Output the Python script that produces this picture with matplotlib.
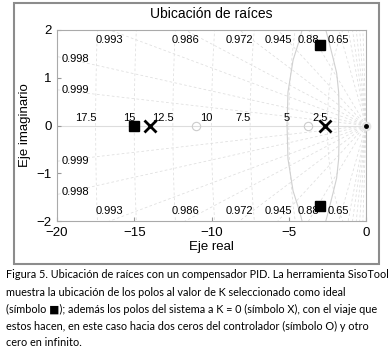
import numpy as np
import matplotlib
matplotlib.use("Agg")
import matplotlib.pyplot as plt
from matplotlib.patches import Rectangle

# ---- data ----
poles_x = [-14.0, -2.65]                 # open-loop poles (X)
pole_origin = [0.0]                      # pole at origin
zeros_x = [-11.0, -3.75]                 # controller zeros (O)
sel_x = [-15.0, -3.0, -3.0]              # selected closed-loop poles (squares)
sel_y = [0.0, 1.69, -1.69]

# upper branch of the complex root locus; lower is mirror
locus_x = [-1.78, -1.75, -1.77, -1.9, -2.1, -2.46, -2.6, -3.4, -4.14, -4.27, -4.72, -5.05, -5.11]
locus_y = [0.0, 0.35, 0.7, 1.1, 1.37, 1.83, 2.0, 2.35, 2.0, 1.83, 1.37, 0.7, 0.0]

zeta_vals = [0.9993, 0.9974, 0.9928, 0.9857, 0.9715, 0.9436, 0.8808, 0.66]
zeta_labels = ['0.999', '0.998', '0.993', '0.986', '0.972', '0.945', '0.88', '0.65']
zeta_extra = [0.1, 0.2, 0.3, 0.4, 0.5]
wn_vals = [2.5, 5, 7.5, 10, 12.5, 15, 17.5]
wn_labels = ['2.5', '5', '7.5', '10', '12.5', '15', '17.5']

xticks = [-20, -15, -10, -5, 0]
yticks = [-2, -1, 0, 1, 2]

caption = [
    "Figura 5. Ubicación de raíces con un compensador PID. La herramienta SisoTool",
    "muestra la ubicación de los polos al valor de K seleccionado como ideal",
    "(símbolo ■); además los polos del sistema a K = 0 (símbolo X), con el viaje que",
    "estos hacen, en este caso hacia dos ceros del controlador (símbolo O) y otro",
    "cero en infinito.",
]

# ---- figure ----
W, H = 392, 352
fig = plt.figure(figsize=(W / 100, H / 100), dpi=100)
plt.rcParams['font.family'] = ['Liberation Sans', 'DejaVu Sans']

ax = fig.add_axes([57 / W, 1 - 221 / H, (366 - 57) / W, (221 - 30) / H])
xmin, xmax, ymin, ymax = -20, 0, -2, 2
ax.set_xlim(xmin, xmax)
ax.set_ylim(ymin, ymax)

gcol = '#dedede'
gkw = dict(color=gcol, lw=0.55, ls=(0, (3.5, 3)), zorder=1)

# damping lines
for z in zeta_vals + zeta_extra:
    r = np.array([0, 40])
    ax.plot(-r * z, r * np.sqrt(1 - z ** 2), **gkw)
    ax.plot(-r * z, -r * np.sqrt(1 - z ** 2), **gkw)

# natural frequency circles
th = np.linspace(np.pi / 2, 3 * np.pi / 2, 400)
for w in wn_vals:
    ax.plot(w * np.cos(th), w * np.sin(th), **gkw)

# real axis
ax.axhline(0, color='#dddddd', lw=0.8, zorder=1)

# damping labels
for z, lab in zip(zeta_vals, zeta_labels):
    s = np.sqrt(1 - z ** 2) / z
    xe = -ymax / s
    if xe >= xmin:
        ax.text(xe, 1.79, lab, ha='center', va='center', fontsize=8, zorder=3)
        ax.text(xe, -1.79, lab, ha='center', va='center', fontsize=8, zorder=3)
    else:
        yl = s * 18.8 + 0.04
        ax.text(-18.8, yl, lab, ha='center', va='center', fontsize=8, zorder=3)
        ax.text(-18.8, -yl, lab, ha='center', va='center', fontsize=8, zorder=3)

# frequency labels
for w, lab in zip(wn_vals, wn_labels):
    ax.text(-w + 0.05, 0.06, lab, ha='right', va='bottom', fontsize=8, zorder=3)

# root locus
lx = np.array(locus_x)
ly = np.array(locus_y)
ax.plot(lx, ly, color='#d0d0d0', lw=0.8, zorder=2)
ax.plot(lx, -ly, color='#d0d0d0', lw=0.8, zorder=2)

# markers
ax.plot(zeros_x, [0] * len(zeros_x), 'o', ms=6, mfc='none', mec='#cccccc', mew=0.8, zorder=4)
ax.plot(poles_x, [0] * len(poles_x), 'x', ms=8, mec='black', mew=2.0, zorder=5)
ax.plot(pole_origin, [0], 'o', ms=7, mfc='#e4e4e4', mec='none', zorder=4, clip_on=False)
ax.plot(pole_origin, [0], 'o', ms=2.5, color='black', zorder=5, clip_on=False)
ax.plot(sel_x, sel_y, 's', ms=7, color='black', zorder=6, clip_on=False)

ax.set_xticks(xticks)
ax.set_yticks(yticks)
ax.tick_params(direction='in', length=3, color='#999999', labelsize=9.5, pad=4)
for sp in ax.spines.values():
    sp.set_color('#aaaaaa')
    sp.set_linewidth(0.8)

ax.set_title('Ubicación de raíces', fontsize=10, pad=9)
ax.set_xlabel('Eje real', fontsize=9.5, labelpad=2)
ax.set_ylabel('Eje imaginario', fontsize=9.5, labelpad=4)

# outer frame
fig.patches.append(Rectangle((14 / W, 1 - 264 / H), (379 - 14) / W, (264 - 3) / H,
                             transform=fig.transFigure, fill=False,
                             edgecolor='#8c8c8c', lw=1.5))

# caption
for i, line in enumerate(caption):
    yc = 275 + 17 * i
    fig.text(6 / W, 1 - yc / H, line, ha='left', va='center', fontsize=7.8,
             family=['Lato', 'DejaVu Sans'])

fig.savefig('out.png', dpi=100)
